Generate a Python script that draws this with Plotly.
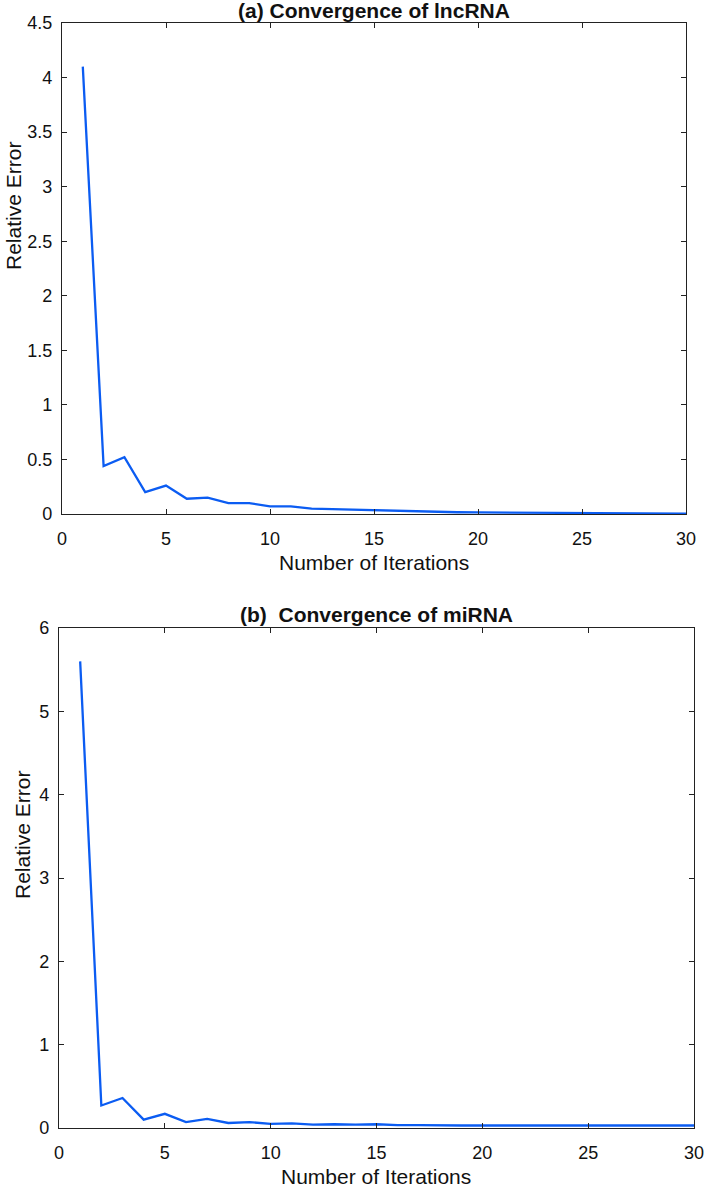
import plotly.graph_objects as go

iterations = list(range(1, 31))
lncrna_error = [4.10, 0.44, 0.52, 0.20, 0.26, 0.14, 0.15, 0.10, 0.10, 0.07,
                0.07, 0.05, 0.045, 0.04, 0.03, 0.025, 0.02, 0.018, 0.016, 0.015,
                0.014, 0.012, 0.010, 0.008, 0.007, 0.006, 0.005, 0.005, 0.004, 0.004]
mirna_error = [5.60, 0.27, 0.36, 0.10, 0.17, 0.07, 0.11, 0.06, 0.07, 0.05,
               0.055, 0.04, 0.045, 0.04, 0.045, 0.035, 0.035, 0.03, 0.03, 0.03,
               0.03, 0.03, 0.03, 0.03, 0.03, 0.03, 0.03, 0.03, 0.03, 0.03]

x_ticks = [0, 5, 10, 15, 20, 25, 30]
y_ticks_a = [0, 0.5, 1, 1.5, 2, 2.5, 3, 3.5, 4, 4.5]
y_ticks_a_text = ["0", "0.5", "1", "1.5", "2", "2.5", "3", "3.5", "4", "4.5"]
y_ticks_b = [0, 1, 2, 3, 4, 5, 6]

title_a = "<b>(a) Convergence of lncRNA</b>"
title_b = "<b>(b)  Convergence of miRNA</b>"
x_label = "Number of Iterations"
y_label = "Relative Error"

LINE = "#0b5cf2"
FONT = "Liberation Sans, Arial, sans-serif"

W, H = 707, 1188
def px(x):
    return x / W
def py(y):
    return 1 - y / H

fig = go.Figure()
fig.add_trace(go.Scatter(x=iterations, y=lncrna_error, mode="lines",
                         line=dict(color=LINE, width=2.3), xaxis="x", yaxis="y",
                         showlegend=False))
fig.add_trace(go.Scatter(x=iterations, y=mirna_error, mode="lines",
                         line=dict(color=LINE, width=2.3), xaxis="x2", yaxis="y2",
                         showlegend=False))

axis_common = dict(showgrid=False, zeroline=False, showline=True, mirror="ticks",
                   ticks="inside", ticklen=5, tickwidth=1, tickcolor="#222",
                   linecolor="#222", linewidth=1.2, automargin=False,
                   tickfont=dict(family=FONT, size=18, color="#111"))

fig.update_layout(
    width=W, height=H, margin=dict(l=0, r=0, t=0, b=0, autoexpand=False),
    paper_bgcolor="white", plot_bgcolor="white",
    xaxis=dict(domain=[px(62), px(686)], anchor="y", range=[0, 30],
               tickvals=x_ticks, ticklabelstandoff=8, **axis_common),
    yaxis=dict(domain=[py(514), py(23)], anchor="x", range=[0, 4.5],
               tickvals=y_ticks_a, ticktext=y_ticks_a_text, ticklabelstandoff=5,
               **axis_common),
    xaxis2=dict(domain=[px(59), px(694)], anchor="y2", range=[0, 30],
                tickvals=x_ticks, ticklabelstandoff=8, **axis_common),
    yaxis2=dict(domain=[py(1128), py(628)], anchor="x2", range=[0, 6],
                tickvals=y_ticks_b, ticklabelstandoff=5, **axis_common),
)

ann_font = dict(family=FONT, size=21, color="#111")
title_font = dict(family=FONT, size=21, color="#111")
anns = [
    dict(text=title_a, x=px(374), y=py(10), font=title_font),
    dict(text=title_b, x=px(376), y=py(614), font=title_font),
    dict(text=x_label, x=px(374), y=py(562), font=ann_font),
    dict(text=x_label, x=px(376), y=py(1176), font=ann_font),
    dict(text=y_label, x=px(13), y=py(206), font=ann_font, textangle=-90),
    dict(text=y_label, x=px(22), y=py(835), font=ann_font, textangle=-90),
]
for a in anns:
    fig.add_annotation(xref="paper", yref="paper", showarrow=False,
                       xanchor="center", yanchor="middle", **a)

fig.write_html("out.html", config={"displayModeBar": False},
               post_script="document.body.style.margin='0';document.body.style.overflow='hidden';")
